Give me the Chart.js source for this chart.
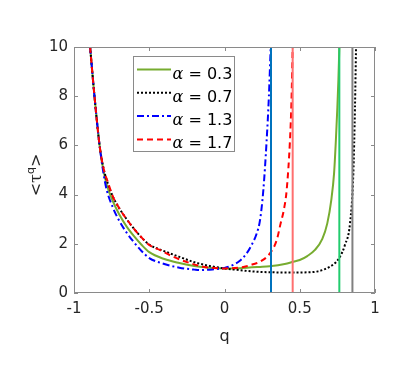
<!DOCTYPE html>
<html>
<head>
<meta charset="utf-8">
<script src="https://cdn.jsdelivr.net/npm/chart.js@4/dist/chart.umd.min.js"></script>
<style>
  html, body { margin: 0; padding: 0; background: #fff; }
  #wrap { width: 407px; height: 366px; }
</style>
</head>
<body>
<div id="wrap"><canvas id="chart" width="407" height="366"></canvas></div>
<script>
// series values
const alphaLabels = ['0.3', '0.7', '1.3', '1.7'];

const qA03 = [-0.893, -0.864, -0.830, -0.805, -0.780, -0.740, -0.700, -0.650, -0.600, -0.550, -0.500, -0.400, -0.300, -0.200, -0.100, 0.000, 0.100, 0.236, 0.300, 0.400, 0.457, 0.500, 0.550, 0.601, 0.650, 0.683, 0.710, 0.728, 0.740, 0.750, 0.757, 0.763];
const tauA03 = [10, 8.0, 6.0, 5.0, 4.35, 3.7, 3.2, 2.7, 2.3, 1.95, 1.66, 1.38, 1.22, 1.1, 1.03, 1.0, 1.01, 1.06, 1.09, 1.18, 1.27, 1.34, 1.5, 1.75, 2.2, 2.83, 3.8, 4.86, 6.2, 7.56, 8.7, 10];

const qA07 = [-0.893, -0.864, -0.830, -0.805, -0.775, -0.740, -0.700, -0.650, -0.600, -0.550, -0.500, -0.400, -0.300, -0.200, -0.100, 0.000, 0.100, 0.200, 0.324, 0.450, 0.546, 0.620, 0.700, 0.740, 0.767, 0.800, 0.834, 0.856, 0.867, 0.874];
const tauA07 = [10, 8.0, 6.0, 5.1, 4.45, 3.9, 3.45, 3.0, 2.6, 2.25, 1.97, 1.7, 1.47, 1.25, 1.1, 1.0, 0.93, 0.87, 0.84, 0.83, 0.84, 0.88, 1.07, 1.25, 1.47, 1.95, 2.83, 4.86, 7.56, 10];

const qA13 = [-0.893, -0.864, -0.830, -0.805, -0.783, -0.740, -0.705, -0.650, -0.600, -0.550, -0.500, -0.400, -0.300, -0.200, -0.160, -0.100, 0.000, 0.050, 0.100, 0.147, 0.180, 0.214, 0.236, 0.258, 0.280, 0.295, 0.307];
const tauA13 = [10, 8.0, 6.0, 4.9, 4.2, 3.45, 3.0, 2.45, 2.05, 1.7, 1.42, 1.18, 1.03, 0.95, 0.93, 0.95, 1.02, 1.12, 1.3, 1.61, 1.95, 2.42, 2.96, 4.18, 6.2, 8.0, 10];

const qA17 = [-0.893, -0.864, -0.830, -0.805, -0.772, -0.740, -0.700, -0.650, -0.600, -0.550, -0.500, -0.430, -0.350, -0.270, -0.140, 0.000, 0.125, 0.190, 0.236, 0.302, 0.347, 0.373, 0.395, 0.413, 0.435, 0.445, 0.453];
const tauA17 = [10, 8.0, 6.0, 5.1, 4.45, 3.9, 3.45, 3.0, 2.6, 2.25, 1.95, 1.75, 1.5, 1.3, 1.07, 1.0, 1.06, 1.17, 1.27, 1.61, 2.15, 2.83, 3.4, 4.18, 6.2, 7.8, 10];

// vertical marker lines
const markerQ = [0.309, 0.453, 0.763, 0.850, 1.0];
const markerColors = ['#0072BD', '#FF6F6F', '#22CC6E', '#808080', '#B4B4B4'];

const xTicks = [-1, -0.5, 0, 0.5, 1];
const yTicks = [0, 2, 4, 6, 8, 10];

const AXIS_COLOR = '#262626';
const BOX_COLOR = '#8a8a8a';

function pts(qs, vs) {
  return qs.map((q, i) => ({ x: q, y: vs[i] }));
}

const curveStyles = [
  { color: '#77AC30', dash: [] },
  { color: '#000000', dash: [2, 2] },
  { color: '#0000FF', dash: [7, 3, 2, 3] },
  { color: '#FF0000', dash: [6, 4] }
];

const curves = [pts(qA03, tauA03), pts(qA07, tauA07), pts(qA13, tauA13), pts(qA17, tauA17)];

const datasets = curves.map((d, i) => ({
  label: 'α = ' + alphaLabels[i],
  data: d,
  showLine: true,
  borderColor: curveStyles[i].color,
  borderDash: curveStyles[i].dash,
  borderWidth: 2,
  pointRadius: 0,
  cubicInterpolationMode: 'monotone',
  order: 6 - i
}));

markerQ.forEach((q, i) => {
  datasets.push({
    label: 'marker' + i,
    data: [{ x: q, y: 0 }, { x: q, y: 10 }],
    showLine: true,
    borderColor: markerColors[i],
    borderWidth: 2,
    pointRadius: 0,
    order: 1
  });
});

// box with inward ticks, legend, axis titles
const decorations = {
  id: 'decorations',
  afterDatasetsDraw(chart) {
    const { ctx, chartArea: a, scales } = chart;
    const xs = scales.x, ys = scales.y;
    ctx.save();
    ctx.strokeStyle = BOX_COLOR;
    ctx.lineWidth = 1;
    ctx.beginPath();
    ctx.rect(a.left + 0.5, a.top + 0.5, a.right - a.left - 1, a.bottom - a.top - 1);
    ctx.stroke();
    const tl = 4;
    ctx.beginPath();
    xTicks.forEach(v => {
      const px = Math.round(xs.getPixelForValue(v)) + 0.5;
      ctx.moveTo(px, a.bottom); ctx.lineTo(px, a.bottom - tl);
      ctx.moveTo(px, a.top); ctx.lineTo(px, a.top + tl);
    });
    yTicks.forEach(v => {
      const py = Math.round(ys.getPixelForValue(v)) + 0.5;
      ctx.moveTo(a.left, py); ctx.lineTo(a.left + tl, py);
      ctx.moveTo(a.right, py); ctx.lineTo(a.right - tl, py);
    });
    ctx.stroke();

    // legend
    const lx = 133.5, ly = 56.5, lw = 101, lh = 95;
    ctx.fillStyle = '#fff';
    ctx.fillRect(lx, ly, lw, lh);
    ctx.strokeStyle = BOX_COLOR;
    ctx.strokeRect(lx, ly, lw, lh);
    for (let i = 0; i < 4; i++) {
      const ry = 69.5 + 23.3 * i;
      ctx.strokeStyle = curveStyles[i].color;
      ctx.setLineDash(curveStyles[i].dash);
      ctx.lineWidth = 2;
      ctx.beginPath();
      ctx.moveTo(137, ry); ctx.lineTo(171, ry);
      ctx.stroke();
      ctx.setLineDash([]);
      ctx.fillStyle = '#000';
      ctx.textBaseline = 'alphabetic';
      ctx.textAlign = 'left';
      ctx.font = 'italic 16px "DejaVu Serif"';
      ctx.fillText('α', 172.5, ry + 9);
      const aw = ctx.measureText('α').width;
      ctx.font = '16px "DejaVu Sans"';
      ctx.fillText(' = ' + alphaLabels[i], 172.5 + aw, ry + 9);
    }

    // x title
    ctx.fillStyle = AXIS_COLOR;
    ctx.font = '16px "DejaVu Sans"';
    ctx.textAlign = 'center';
    ctx.fillText('q', (a.left + a.right) / 2, 341);

    // y title <τ^q>
    ctx.translate(41, 175);
    ctx.rotate(-Math.PI / 2);
    const f = '16px "DejaVu Sans"', fs = '11px "DejaVu Sans"', fg = '16px "DejaVu Serif"';
    const parts = [['<', f, 0], ['τ', fg, 0], ['q', fs, -7], ['>', f, 0]];
    let total = 0;
    parts.forEach(p => { ctx.font = p[1]; total += ctx.measureText(p[0]).width; });
    let x = -total / 2;
    ctx.textAlign = 'left';
    parts.forEach(p => {
      ctx.font = p[1];
      ctx.fillText(p[0], x, p[2]);
      x += ctx.measureText(p[0]).width;
    });
    ctx.restore();
  }
};

new Chart(document.getElementById('chart'), {
  type: 'scatter',
  data: { datasets },
  options: {
    responsive: false,
    animation: false,
    layout: { padding: { left: 0, top: 47, right: 32, bottom: 0 } },
    plugins: { legend: { display: false }, tooltip: { enabled: false } },
    scales: {
      x: {
        type: 'linear', min: -1, max: 1,
        afterBuildTicks: s => { s.ticks = xTicks.map(v => ({ value: v })); },
        afterFit: s => { s.height = 73; },
        grid: { display: false, drawTicks: false },
        border: { display: false },
        ticks: { color: AXIS_COLOR, padding: 7, font: { family: 'DejaVu Sans', size: 15 }, maxRotation: 0, callback: v => String(v) }
      },
      y: {
        type: 'linear', min: 0, max: 10,
        afterBuildTicks: s => { s.ticks = yTicks.map(v => ({ value: v })); },
        afterFit: s => { s.width = 74; },
        grid: { display: false, drawTicks: false },
        border: { display: false },
        ticks: { color: AXIS_COLOR, padding: 6, font: { family: 'DejaVu Sans', size: 15 }, callback: v => String(v) }
      }
    }
  },
  plugins: [decorations]
});
</script>
</body>
</html>
